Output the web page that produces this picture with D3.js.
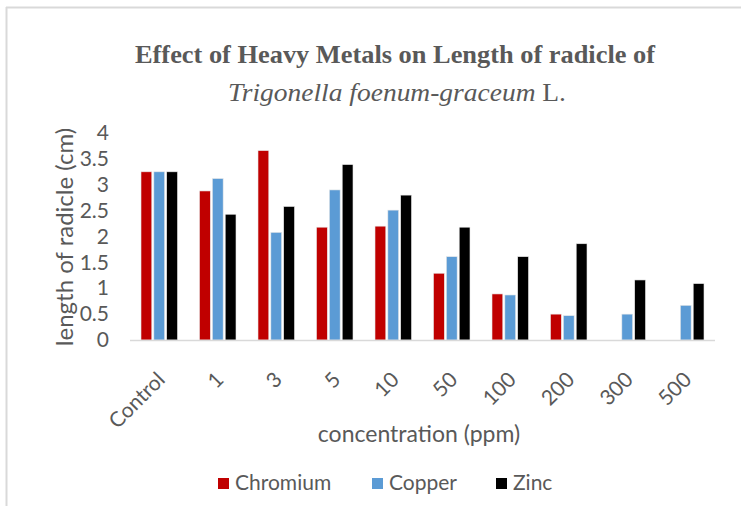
<!DOCTYPE html>
<html>
<head>
<meta charset="utf-8">
<script src="https://cdn.jsdelivr.net/npm/d3@7"></script>
<style>
  html, body { margin: 0; padding: 0; background: #fff; }
  svg { display: block; }
</style>
</head>
<body>
<svg id="chart" width="741" height="506"></svg>
<script>
const categories = ["Control", "1", "3", "5", "10", "50", "100", "200", "300", "500"];
const seriesNames = ["Chromium", "Copper", "Zinc"];
const chromium = [3.25, 2.88, 3.66, 2.18, 2.20, 1.29, 0.89, 0.50, 0, 0];
const copper   = [3.25, 3.12, 2.08, 2.90, 2.51, 1.61, 0.87, 0.47, 0.50, 0.67];
const zinc     = [3.25, 2.43, 2.58, 3.39, 2.80, 2.18, 1.61, 1.86, 1.16, 1.09];
const yTicks = [0, 0.5, 1, 1.5, 2, 2.5, 3, 3.5, 4];
const colors = ["#C00000", "#5B9BD5", "#000000"];

const seriesValues = [chromium, copper, zinc];
const svg = d3.select("#chart");
const sans = "Lato, 'Open Sans', sans-serif";
const textColor = "#595959";

// frame (top and left border visible)
svg.append("line").attr("x1", 6).attr("x2", 741).attr("y1", 7.5).attr("y2", 7.5)
  .attr("stroke", "#d9d9d9").attr("stroke-width", 2);
svg.append("line").attr("x1", 6.5).attr("x2", 6.5).attr("y1", 7).attr("y2", 506)
  .attr("stroke", "#d9d9d9").attr("stroke-width", 2);

const pLeft = 130, pRight = 715, pTop = 133, pBottom = 340;
const x = d3.scaleBand().domain(categories).range([pLeft, pRight]).paddingInner(0).paddingOuter(0);
const x1 = d3.scaleBand().domain(seriesNames).range([0, 36.5]).paddingInner(0.16);
const y = d3.scaleLinear().domain([0, 4]).range([pBottom, pTop]);

// bars
const groups = svg.append("g").selectAll("g").data(categories).join("g")
  .attr("transform", d => `translate(${x(d) + (x.bandwidth() - 36.5) / 2},0)`);
groups.selectAll("rect")
  .data((c, i) => seriesNames.map((s, j) => ({ s, j, v: seriesValues[j][i] })).filter(d => d.v > 0))
  .join("rect")
  .attr("x", d => x1(d.s))
  .attr("width", x1.bandwidth())
  .attr("y", d => y(d.v))
  .attr("height", d => y(0) - y(d.v))
  .attr("fill", d => colors[d.j])
  .attr("stroke", "#e8e8e8")
  .attr("stroke-width", 0.6);

// x axis line
svg.append("line").attr("x1", pLeft).attr("x2", pRight).attr("y1", pBottom + 0.5).attr("y2", pBottom + 0.5)
  .attr("stroke", "#d9d9d9").attr("stroke-width", 1.5);

// y axis labels
const yAxis = d3.axisLeft(y).tickValues(yTicks).tickSize(0).tickPadding(0).tickFormat(d3.format("~g"));
const gy = svg.append("g").attr("transform", `translate(109,0)`).call(yAxis);
gy.select(".domain").remove();
gy.selectAll("text").attr("font-family", sans).attr("font-size", 21)
  .attr("fill", textColor);

// x axis labels
const xAxis = d3.axisBottom(x).tickSize(0).tickPadding(0);
const gx = svg.append("g").attr("transform", `translate(0,${pBottom})`).call(xAxis);
gx.select(".domain").remove();
gx.selectAll("text")
  .attr("font-family", sans).attr("font-size", 21)
  .attr("fill", textColor)
  .attr("text-anchor", "end")
  .attr("dy", 0)
  .attr("transform", "translate(7,41) rotate(-45)");

// axis titles
svg.append("text").attr("x", 419).attr("y", 442).attr("text-anchor", "middle")
  .attr("font-family", sans).attr("font-size", 23)
  .attr("fill", textColor).text("concentration (ppm)");

svg.append("text").attr("transform", "translate(73,237) rotate(-90)").attr("text-anchor", "middle")
  .attr("font-family", sans).attr("font-size", 24)
  .attr("fill", textColor).text("length of radicle (cm)");

// title
const serif = "'Liberation Serif', 'Times New Roman', serif";
svg.append("text").attr("x", 395).attr("y", 63).attr("text-anchor", "middle")
  .attr("font-family", serif).attr("font-weight", "bold").attr("font-size", 26)
  .attr("fill", textColor)
  .attr("textLength", 520).attr("lengthAdjust", "spacingAndGlyphs")
  .text("Effect of Heavy Metals on Length of radicle of");
const t2 = svg.append("text").attr("x", 397).attr("y", 101).attr("text-anchor", "middle")
  .attr("font-family", serif).attr("font-size", 26).attr("fill", textColor)
  .attr("textLength", 338).attr("lengthAdjust", "spacingAndGlyphs");
t2.append("tspan").attr("font-style", "italic").text("Trigonella foenum-graceum");
t2.append("tspan").attr("font-style", "normal").text(" L.");

// legend
const legendX = [218, 372, 496];
const lg = svg.append("g").selectAll("g").data(seriesNames).join("g")
  .attr("transform", (d, i) => `translate(${legendX[i]},478)`);
lg.append("rect").attr("width", 11).attr("height", 11).attr("fill", (d, i) => colors[i]);
lg.append("text").attr("x", 17).attr("y", 12)
  .attr("font-family", sans).attr("font-size", 21)
  .attr("fill", textColor).text(d => d);
</script>
</body>
</html>
